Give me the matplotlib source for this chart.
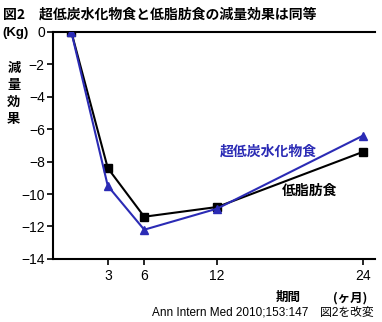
import matplotlib
matplotlib.use("Agg")
import matplotlib.pyplot as plt

plt.rcParams['font.family'] = ['Noto Sans CJK JP', 'DejaVu Sans']
LATIN = ['Liberation Sans', 'Noto Sans CJK JP']

# ── data ────────────────────────────────────────────────────────────────
months = [0, 3, 6, 12, 24]
low_carb = [0, -9.5, -12.2, -10.9, -6.4]   # 超低炭水化物食
low_fat = [0, -8.4, -11.4, -10.8, -7.4]    # 低脂肪食
x_ticks = [3, 6, 12, 24]
y_ticks = list(range(-14, 1, 2))

BLUE = "#2b2bb5"

fig = plt.figure(figsize=(3.82, 3.22), dpi=100)
ax = fig.add_axes([0.139, 0.196, 0.843, 0.705])

ax.plot(months, low_fat, color="black", lw=1.5, marker="s", ms=5.5, zorder=3)
ax.plot(months, low_carb, color=BLUE, lw=1.5, marker="^", ms=6, zorder=3)

ax.set_xlim(-1.5, 25)
ax.set_ylim(-14, 0)
ax.set_xticks(x_ticks)
ax.set_yticks(y_ticks)
ax.set_yticklabels([f"\u2212{abs(v)}" if v else "0" for v in y_ticks])
ax.tick_params(direction="out", length=4, width=1.2, labelsize=10, pad=2)
ax.tick_params(axis="x", pad=3)
for lab in ax.get_xticklabels() + ax.get_yticklabels():
    lab.set_family(LATIN)

for side in ("left", "bottom", "top"):
    ax.spines[side].set_linewidth(1.5)
ax.spines["right"].set_visible(False)

# line labels
ax.text(12.2, -7.4, "超低炭水化物食", color=BLUE, fontsize=10, fontweight="bold",
        ha="left", va="center")
ax.text(17.3, -9.8, "低脂肪食", color="black", fontsize=10, fontweight="bold",
        ha="left", va="center")

# figure texts
fig.text(0.008, 0.955, "図2　超低炭水化物食と低脂肪食の減量効果は同等",
         fontsize=10, fontweight="bold", ha="left", va="center")
fig.text(0.005, 0.898, "(Kg)", fontsize=9.5, fontweight="bold", ha="left", va="center",
         family=LATIN)
fig.text(0.036, 0.71, "減\n量\n効\n果", fontsize=9.5, fontweight="bold",
         ha="center", va="center", linespacing=1.25)
fig.text(0.754, 0.075, "期間", fontsize=9, fontweight="bold", ha="center", va="center")
fig.text(0.916, 0.075, "(ヶ月)", fontsize=9, fontweight="bold", ha="center", va="center")
fig.text(0.978, 0.028, "Ann Intern Med 2010;153:147　図2を改変", fontsize=8.5,
         ha="right", va="center", family=LATIN)

fig.savefig("out.png", dpi=100)
